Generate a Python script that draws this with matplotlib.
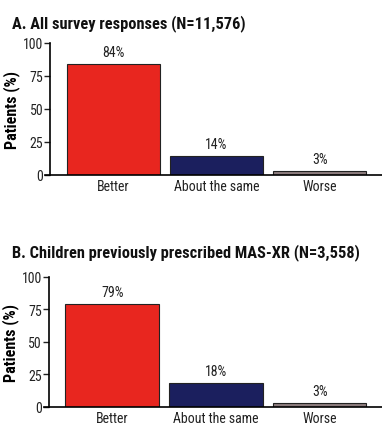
import matplotlib
matplotlib.use("Agg")
import matplotlib.pyplot as plt

plt.rcParams['font.family'] = ["Roboto Condensed", "DejaVu Sans"]

categories = ["Better", "About the same", "Worse"]
values_a = [84, 14, 3]
values_b = [79, 18, 3]
labels_a = ["84%", "14%", "3%"]
labels_b = ["79%", "18%", "3%"]
title_a = "A. All survey responses (N=11,576)"
title_b = "B. Children previously prescribed MAS-XR (N=3,558)"
yticks = [0, 25, 50, 75, 100]

colors = ["#e8261f", "#1b1f5e", "#8c7c7e"]

fig = plt.figure(figsize=(3.82, 4.27), dpi=100)
fig.patch.set_facecolor("white")

def panel(rect, vals, labs, title, title_y):
    ax = fig.add_axes(rect)
    x = range(len(categories))
    ax.bar(x, vals, width=0.9, color=colors, edgecolor="#222222", linewidth=0.8)
    for xi, v, l in zip(x, vals, labs):
        ax.text(xi, v + 4, l, ha="center", va="bottom", fontsize=10, color="#222222")
    ax.set_ylim(0, 100)
    ax.set_xlim(-0.61, 2.6)
    ax.set_yticks(yticks)
    ax.set_xticks(list(x))
    ax.set_xticklabels(categories, fontsize=10, color="#222222")
    ax.tick_params(axis="y", labelsize=10, length=4, width=1, direction="out", colors="#222222", pad=1)
    ax.tick_params(axis="x", length=0, pad=3)
    for s in ["top", "right"]:
        ax.spines[s].set_visible(False)
    ax.spines["left"].set_linewidth(1.2)
    ax.spines["bottom"].set_linewidth(1.2)
    ax.spines["bottom"].set_bounds(-0.66, 2.6)
    ax.set_ylabel("Patients (%)", fontsize=11.5, fontweight="bold", labelpad=2)
    fig.text(0.031, title_y, title, fontsize=11.8, fontweight="bold", va="center", ha="left", color="#111111")
    return ax

panel([0.131, 0.588, 0.869, 0.309], values_a, labels_a, title_a, 0.945)
panel([0.128, 0.045, 0.872, 0.305], values_b, labels_b, title_b, 0.408)

fig.savefig("out.png", dpi=100)
